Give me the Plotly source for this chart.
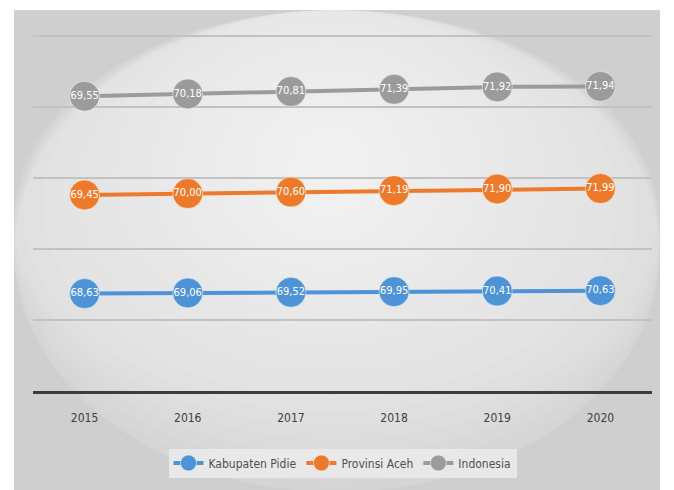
import plotly.graph_objects as go

years = ["2015", "2016", "2017", "2018", "2019", "2020"]
pidie = [68.63, 69.06, 69.52, 69.95, 70.41, 70.63]
aceh = [69.45, 70.00, 70.60, 71.19, 71.90, 71.99]
indonesia = [69.55, 70.18, 70.81, 71.39, 71.92, 71.94]

series = [
    ("Kabupaten Pidie", pidie, "#4e93d6"),
    ("Provinsi Aceh", aceh, "#ed7a2b"),
    ("Indonesia", indonesia, "#9b9b9b"),
]

W, H = 674, 490
L, R, T, B = 33, 22, 29, 99
pw, ph = W - L - R, H - T - B


def px_x(p):
    return (p - L) / pw


def px_y(p):
    return (H - B - p) / ph


FONT = "DejaVu Sans Condensed, Liberation Sans Narrow, Arial Narrow, sans-serif"

fig = go.Figure()
for name, vals, col in series:
    fig.add_trace(go.Scatter(
        x=years, y=vals, name=name, stackgroup="one", fill="none",
        mode="lines+markers+text",
        line=dict(color=col, width=4),
        marker=dict(color=col, size=30, line=dict(color="rgba(255,255,255,0.5)", width=1)),
        text=[f"{v:.2f}".replace(".", ",") for v in vals],
        textposition="middle center",
        textfont=dict(color="white", size=11, family=FONT),
        hoverinfo="skip",
    ))

shapes = [dict(type="rect", xref="paper", yref="paper", layer="below",
               x0=px_x(14), x1=px_x(660), y0=px_y(492), y1=px_y(10),
               fillcolor="#cfcfcf", line=dict(width=0))]
cx, cy = 330, 170
n = 22
for i in range(n):
    rx = 440 - i * 19
    ry = 340 - i * 14
    shapes.append(dict(type="circle", xref="paper", yref="paper", layer="below",
                       x0=px_x(max(14, cx - rx)), x1=px_x(min(660, cx + rx)),
                       y0=px_y(min(492, cy + ry)), y1=px_y(max(10, cy - ry)),
                       fillcolor="rgba(255,255,255,0.065)", line=dict(width=0)))

fig.update_layout(
    width=W, height=H,
    margin=dict(l=L, r=R, t=T, b=B),
    paper_bgcolor="white", plot_bgcolor="rgba(0,0,0,0)",
    shapes=shapes,
    showlegend=True,
    legend=dict(orientation="h", x=0.5, xanchor="center", y=px_y(463), yanchor="middle",
                bgcolor="rgba(234,234,234,0.9)", font=dict(size=12, color="#505050", family=FONT),
                itemwidth=30, traceorder="normal"),
    xaxis=dict(type="category", range=[-0.5, 5.5], showgrid=False, zeroline=False,
               showline=True, linecolor="#3c3c3c", linewidth=3,
               ticks="", tickfont=dict(size=12, color="#404040", family=FONT),
               ticklabelstandoff=14),
    yaxis=dict(range=[0, 255], dtick=50, showticklabels=False, zeroline=False,
               showgrid=True, gridcolor="#c2c2c2", gridwidth=2),
    font=dict(family=FONT),
)

fig.write_html("out.html")
